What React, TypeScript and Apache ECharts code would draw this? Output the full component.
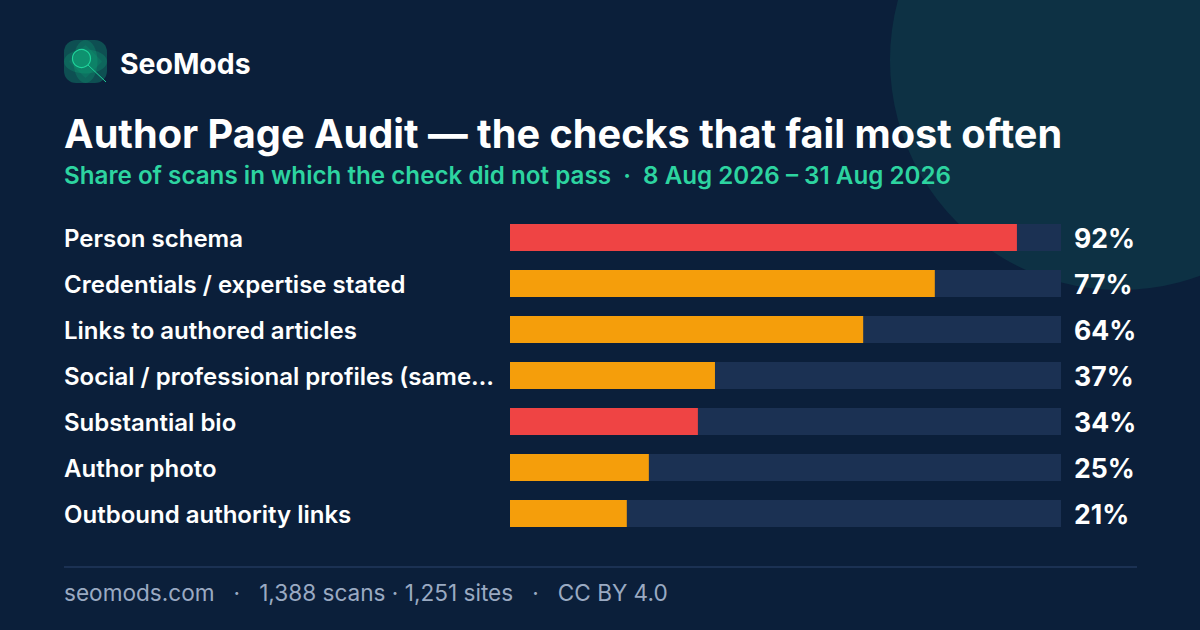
import React, { useEffect, useRef } from "react";
import * as echarts from "echarts";

const categories = ["Person schema","Credentials / expertise stated","Links to authored articles","Social / professional profiles (same…","Substantial bio","Author photo","Outbound authority links"];
const values = [92.0,77.1,64.1,37.2,34.1,25.2,21.2];
const valueLabels = ["92%","77%","64%","37%","34%","25%","21%"];
const barColors = ["#ef4444","#f59e0b","#f59e0b","#f59e0b","#ef4444","#f59e0b","#f59e0b"];
const BG = "#0b1f3a";
const HEAD = "Inter";
const FOOT = "Inter";

export default function App() {
  const ref = useRef<HTMLDivElement>(null);
  useEffect(() => {
    const chart = echarts.init(ref.current!, undefined, { renderer: "svg" });
    chart.setOption({
      animation: false,
      backgroundColor: BG,
      grid: { left: 510, top: 214.5, width: 551, height: 322 },
      xAxis: { type: "value", min: 0, max: 100, show: false },
      yAxis: [
        { type: "category", inverse: true, data: categories, axisLine: { show: false }, axisTick: { show: false },
          axisLabel: { margin: 446, align: "left", verticalAlign: "top", lineHeight: 1, color: "#fff", fontFamily: HEAD, fontSize: 24, fontWeight: 600 } },
        { type: "category", inverse: true, position: "right", data: valueLabels, axisLine: { show: false }, axisTick: { show: false },
          axisLabel: { margin: 13, align: "left", color: "#fff", fontFamily: HEAD, fontSize: 26.6, fontWeight: 700 } },
      ],
      series: [{
        type: "bar", barWidth: 27, yAxisIndex: 0,
        data: values.map((v, i) => ({ value: v, itemStyle: { color: barColors[i] } })),
        showBackground: true, backgroundStyle: { color: "#1b3153" },
      }],
      graphic: [
        { type: "circle", z: -1, shape: { cx: 1120, cy: 60, r: 230 }, style: { fill: "#0d3144" } },
        { type: "group", children: [
          { type: "rect", shape: { x: 64, y: 40, width: 43, height: 43, r: 12 }, style: { fill: "#0e4f52" } },
          { type: "ellipse", shape: { cx: 85.5, cy: 61.5, rx: 12, ry: 21.5 }, style: { fill: "#10b981", opacity: 0.22 } },
          { type: "ellipse", shape: { cx: 85.5, cy: 61.5, rx: 21.5, ry: 12 }, style: { fill: "#10b981", opacity: 0.22 } },
          { type: "polygon", shape: { points: [[85.5, 45], [102, 61.5], [85.5, 78], [69, 61.5]] }, style: { fill: "#10b981", opacity: 0.15 } },
          { type: "circle", shape: { cx: 81.5, cy: 58.5, r: 9 }, style: { fill: "#10b981", opacity: 0.3 } },
          { type: "circle", shape: { cx: 81.5, cy: 58.5, r: 9 }, style: { fill: "none", stroke: "#1fd39a", lineWidth: 1.2 } },
          { type: "line", shape: { x1: 88, y1: 65, x2: 106, y2: 82 }, style: { stroke: "#1fd39a", lineWidth: 1 } },
        ] },
        { type: "text", x: 120, y: 63, style: { text: "SeoMods", fill: "#fff", font: `700 28.4px ${HEAD}`, verticalAlign: "middle" } },
        { type: "text", x: 64, y: 134, style: { text: "Author Page Audit — the checks that fail most often", fill: "#fff", font: `700 39.7px ${HEAD}`, verticalAlign: "middle" } },
        { type: "text", x: 64, y: 175, style: { text: "Share of scans in which the check did not pass  ·  8 Aug 2026 – 31 Aug 2026", fill: "#2dd4a0", font: `600 24.2px ${HEAD}`, verticalAlign: "middle" } },
        { type: "line", shape: { x1: 64, y1: 567, x2: 1137, y2: 567 }, style: { stroke: "#1b3153", lineWidth: 2 } },
        { type: "text", x: 64, y: 592, style: { text: "seomods.com   ·   1,388 scans · 1,251 sites   ·   CC BY 4.0", fill: "#9aaac2", font: `400 22.6px ${FOOT}`, verticalAlign: "middle" } },
      ],
    });
    return () => chart.dispose();
  }, []);
  return <div ref={ref} style={{ position: "fixed", left: 0, top: 0, width: 1200, height: 630 }} />;
}
